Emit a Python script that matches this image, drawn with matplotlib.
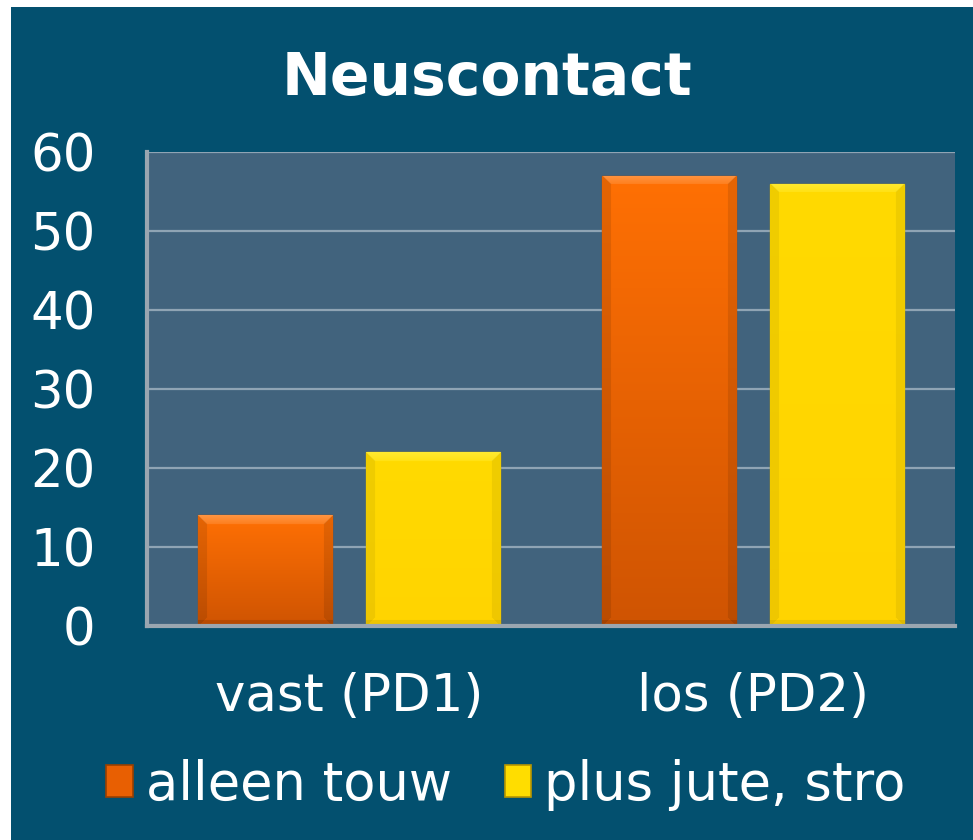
import numpy as np
import matplotlib
matplotlib.use("Agg")
import matplotlib.pyplot as plt
from matplotlib.patches import Rectangle
from matplotlib.colors import to_rgb

categories = ["vast (PD1)", "los (PD2)"]
series_names = ["alleen touw", "plus jute, stro"]
alleen_touw = [14, 57]
plus_jute_stro = [22, 56]
yticks = [0, 10, 20, 30, 40, 50, 60]
title = "Neuscontact"

W, H = 973, 840
fig = plt.figure(figsize=(W / 100, H / 100), dpi=100, facecolor="white")
bg = "#03506F"
fig.patches.append(Rectangle((11 / W, 0), 1 - 11 / W, 1 - 7 / H, transform=fig.transFigure,
                             facecolor=bg, edgecolor="none", zorder=-10))

ax = fig.add_axes([147 / W, 1 - 626 / H, (955 - 147) / W, (626 - 152) / H])
ax.set_facecolor("#41637D")
ax.set_xlim(-0.5, 1.5)
ax.set_ylim(0, 60)

x = np.arange(len(categories))
bw = 0.332
off = 0.208
b1 = ax.bar(x - off, alleen_touw, bw, color="#F26A05", edgecolor="#B04800", linewidth=1.0, zorder=3)
b2 = ax.bar(x + off, plus_jute_stro, bw, color="#FFD600", edgecolor="#C8A400", linewidth=1.0, zorder=3)

styles = {
    "or": dict(top="#FF7004", bot="#CF5402", hi="#FF9440", edge_dark=0.9, bottom_dark=0.88),
    "ye": dict(top="#FFDA00", bot="#FFD400", hi="#FFEA30", edge_dark=0.94, bottom_dark=0.93),
}


def bevel_image(wpx, hpx, st):
    wpx = max(int(wpx), 2)
    hpx = max(int(hpx), 2)
    t = np.linspace(0, 1, hpx)[:, None]
    top = np.array(to_rgb(st["top"]))
    bot = np.array(to_rgb(st["bot"]))
    img = top[None, None, :] * (1 - t[..., None]) + bot[None, None, :] * t[..., None]
    img = np.repeat(img, wpx, axis=1)
    yy, xx = np.mgrid[0:hpx, 0:wpx]
    bv = 9
    hi = np.array(to_rgb(st["hi"]))
    topmask = (yy < bv) & (xx >= yy) & (wpx - 1 - xx >= yy)
    fade = (1 - yy / bv)[..., None] * 0.6 + 0.4
    img = np.where(topmask[..., None], hi * fade + img * (1 - fade), img)
    side = ((xx < bv) & (yy >= xx) & (hpx - 1 - yy >= xx)) | \
           ((wpx - 1 - xx < bv) & (yy >= wpx - 1 - xx) & (hpx - 1 - yy >= wpx - 1 - xx))
    img[side] *= st["edge_dark"]
    botmask = (hpx - 1 - yy < 6) & ~topmask
    img[botmask] *= st["bottom_dark"]
    return np.clip(img, 0, 1)


for bars, key in ((b1, "or"), (b2, "ye")):
    for p in bars:
        x0, y0 = p.get_x(), p.get_y()
        x1, y1 = x0 + p.get_width(), y0 + p.get_height()
        (px0, py0), (px1, py1) = ax.transData.transform([(x0, y0), (x1, y1)])
        img = bevel_image(px1 - px0, py1 - py0, styles[key])
        im = ax.imshow(img, extent=(x0, x1, y0, y1), aspect="auto",
                       origin="upper", zorder=3.5, interpolation="bilinear")
        im.set_clip_path(p)

ax.set_xlim(-0.5, 1.5)
ax.set_ylim(0, 60)
ax.set_yticks(yticks)
ax.set_xticks(x)
ax.set_xticklabels(categories)
ax.grid(axis="y", color="#8FA4B4", linewidth=1.6, zorder=1)
ax.set_axisbelow(True)
for s in ("top", "right"):
    ax.spines[s].set_visible(False)
for s in ("left", "bottom"):
    ax.spines[s].set_color("#9AA6B0")
    ax.spines[s].set_linewidth(3)
    ax.spines[s].set_zorder(4)
ax.tick_params(axis="both", length=0, colors="white", labelsize=37)
ax.tick_params(axis="y", pad=37)
ax.tick_params(axis="x", pad=33)

fig.text(487 / W, 1 - 78 / H, title, ha="center", va="center", color="white",
         fontsize=42, fontweight="bold")

h1 = Rectangle((0, 0), 1, 1, facecolor="#E85F02", edgecolor="#9A4000", linewidth=1.2)
h2 = Rectangle((0, 0), 1, 1, facecolor="#FFDD00", edgecolor="#B89600", linewidth=1.2)
leg = fig.legend([h1, h2], series_names, loc="center", bbox_to_anchor=(506 / W, 1 - 785 / H),
                 ncol=2, frameon=False, fontsize=38, labelcolor="white",
                 handlelength=0.5, handleheight=0.55, handletextpad=0.25, columnspacing=1.0)

fig.savefig("out.png", dpi=100, facecolor="white")
